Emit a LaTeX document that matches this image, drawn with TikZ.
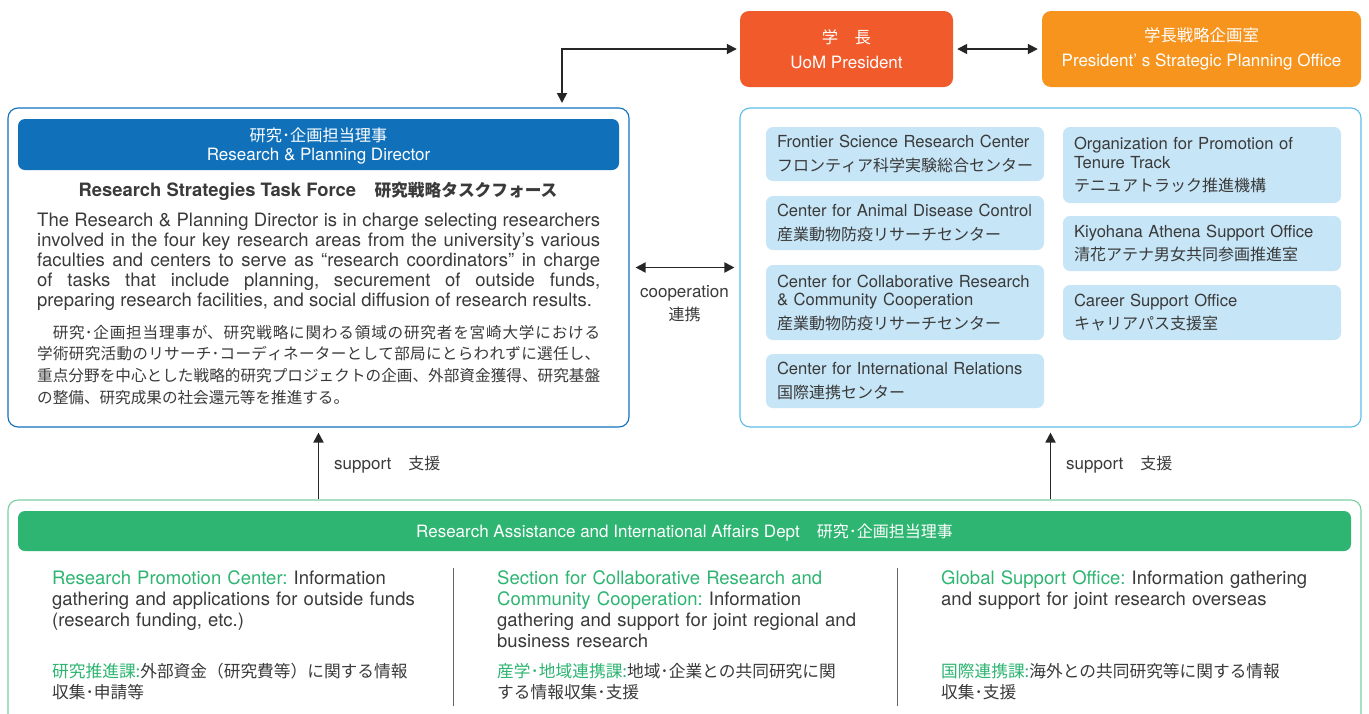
\documentclass[tikz,border=0pt]{standalone}
\usepackage{fontspec}
\setmainfont{TeX Gyre Heros}
\newfontfamily\jpf{Noto Sans CJK JP}
\newcommand\jp[2]{{\jpf\fontsize{#1}{#1}\selectfont #2}}
\newcommand\jpjust{\XeTeXlinebreaklocale "ja"\XeTeXlinebreakskip=0pt plus 3pt\relax}
\newcommand\nohy{\hyphenpenalty=10000\exhyphenpenalty=10000\relax}
\frenchspacing
\usetikzlibrary{arrows.meta}
\definecolor{pres}{HTML}{F15A2B}
\definecolor{pspo}{HTML}{F7941D}
\definecolor{rpblue}{HTML}{1071BA}
\definecolor{ltblue}{HTML}{5BBDE9}
\definecolor{cellblue}{HTML}{C6E5F6}
\definecolor{grn}{HTML}{2DB571}
\definecolor{grnline}{HTML}{7BD0A3}
\definecolor{txt}{HTML}{3A3A3A}
\tikzset{
  toptile/.style={rounded corners=9pt, minimum width=#1, minimum height=76pt, text=white, align=center, font=\fontsize{17}{19}\selectfont, inner sep=0pt},
  frame/.style={rounded corners=10pt, line width=1.1pt, inner sep=0pt},
  hdr/.style={rounded corners=7pt, text=white, align=center, inner sep=0pt, text depth=0pt, font=\fontsize{17}{19}\selectfont},
  cell/.style={fill=cellblue, rounded corners=7pt, minimum width=278pt, text width=256pt, inner xsep=11pt, inner ysep=0pt, align=left, text=txt, font=\fontsize{16.6}{18.5}\selectfont\nohy},
  arr/.style={line width=1.8pt, draw=black!85},
  dbl/.style={arr, {Triangle[length=10pt,width=10pt]}-{Triangle[length=10pt,width=10pt]}},
  one/.style={arr, -{Triangle[length=10pt,width=10pt]}},
  lbl/.style={inner sep=0pt, text=txt, font=\fontsize{17}{19}\selectfont},
  body/.style={anchor=base west, inner sep=0pt, text width=420pt, align=left, text=txt, font=\fontsize{18.5}{21.3}\selectfont\frenchspacing},
  jbody/.style={anchor=base west, inner sep=0pt, text width=420pt, align=left, text=txt, font=\jpf\fontsize{16.7}{21}\selectfont},
  divider/.style={draw=black!60, line width=0.8pt}
}
\begin{document}
\begin{tikzpicture}[x=1pt,y=-1pt]
\useasboundingbox (0,0) rectangle (1369,713);
\clip (0,0) rectangle (1369,713);
\fill[white] (0,0) rectangle (1369,713);

% top tiles
\node[toptile=213pt, fill=pres] (P) at (846.5,49) {\jp{16.4}{学　長}\\[6pt]UoM President};
\node[toptile=319pt, fill=pspo] (S) at (1201.5,49) {\jp{16.4}{学長戦略企画室}\\[6pt]President’ s Strategic Planning Office};

% left frame
\node[frame, draw=rpblue, minimum width=621pt, minimum height=319pt] (L) at (318.5,267.5) {};
\node[hdr, fill=rpblue, minimum width=601pt, minimum height=51pt] (LH) at (318.5,144.5) {\jp{16.2}{研究･企画担当理事}\\Research \& Planning Director};
\node[inner sep=0pt, text=txt, font=\fontsize{18.4}{20}\selectfont\bfseries] (LT) at (318,191) {Research Strategies Task Force\quad\jp{16.7}{研究戦略タスクフォース}};
\node[anchor=base west, inner sep=0pt, text width=563pt, align=justify, text=txt, font=\fontsize{18.5}{20}\selectfont] (LE) at (37,226) {The Research \& Planning Director is in charge selecting researchers\linebreak involved in the four key research areas from the university’s various\linebreak faculties and centers to serve as “research coordinators” in charge\linebreak of tasks that include planning, securement of outside funds,\linebreak preparing research facilities, and social diffusion of research results.};
\node[anchor=base west, inner sep=0pt, text width=563pt, align=justify, text=txt, font=\jpf\fontsize{15.6}{21.7}\selectfont\jpjust] (LJ) at (37,338) {\hspace*{1em}研究･企画担当理事が、研究戦略に関わる領域の研究者を宮崎大学における\linebreak 学術研究活動のリサーチ･コーディネーターとして部局にとらわれずに選任し、\linebreak 重点分野を中心とした戦略的研究プロジェクトの企画、外部資金獲得、研究基盤\linebreak の整備、研究成果の社会還元等を推進する。};

% right frame
\node[frame, draw=ltblue, minimum width=621pt, minimum height=319pt] (R) at (1050.5,267.5) {};
\node[cell, minimum height=54pt] (C1) at (905,154) {Frontier Science Research Center\\[5pt]\jp{16}{フロンティア科学実験総合センター}};
\node[cell, minimum height=54pt] (C2) at (905,223) {Center for Animal Disease Control\\[5pt]\jp{16}{産業動物防疫リサーチセンター}};
\node[cell, minimum height=75pt] (C3) at (905,302.5) {Center for Collaborative Research\\\& Community Cooperation\\[5pt]\jp{16}{産業動物防疫リサーチセンター}};
\node[cell, minimum height=54pt] (C4) at (905,381) {Center for International Relations\\[5pt]\jp{16}{国際連携センター}};
\node[cell, minimum height=76pt] (D1) at (1202,165) {Organization for Promotion of\\Tenure Track\\[5pt]\jp{16}{テニュアトラック推進機構}};
\node[cell, minimum height=55pt] (D2) at (1202,243.5) {Kiyohana Athena Support Office\\[5pt]\jp{16}{清花アテナ男女共同参画推進室}};
\node[cell, minimum height=55pt] (D3) at (1202,312.5) {Career Support Office\\[5pt]\jp{16}{キャリアパス支援室}};

% arrows top
\coordinate (Ltop) at (562,103);
\draw[dbl, shorten <=3pt] (P.west) -| (Ltop);
\draw[dbl, shorten <=4pt, shorten >=4pt] (P.east) -- (S.west);

% cooperation
\draw[dbl, shorten <=6pt, shorten >=5pt] (L.east) -- (R.west);
\node[lbl] (coop) at (684.5,293) {cooperation};
\node[lbl] (coopj) at (684.5,314) {\jp{16}{連携}};

% bottom frame
\node[frame, draw=grnline, minimum width=1353pt, minimum height=260pt] (B) at (684.5,630) {};
\node[hdr, fill=grn, minimum width=1333pt, minimum height=40pt] (BH) at (684.5,531) {Research Assistance and International Affairs Dept\quad\jp{16}{研究･企画担当理事}};

% support arrows
\draw[one, shorten >=5pt] (B.north -| L.south) -- (L.south);
\draw[one, shorten >=5pt] (B.north -| R.south) -- (R.south);
\node[lbl, anchor=west] (sup1) at (334,465) {support\quad\jp{16}{支援}};
\node[lbl, anchor=west] (sup2) at (1066,465) {support\quad\jp{16}{支援}};

% columns
\node[body] (E1) at (52,584) {\color{grn}Research Promotion Center: \color{txt}Information\\gathering and applications for outside funds\\(research funding, etc.)};
\node[jbody] (J1) at (52,677) {\color{grn}研究推進課:\color{txt}外部資金（研究費等）に関する情報\\収集･申請等};
\node[body] (E2) at (497,584) {\color{grn}Section for Collaborative Research and\\Community Cooperation: \color{txt}Information\\gathering and support for joint regional and\\business research};
\node[jbody] (J2) at (497,677) {\color{grn}産学･地域連携課:\color{txt}地域･企業との共同研究に関\\する情報収集･支援};
\node[body] (E3) at (941,584) {\color{grn}Global Support Office: \color{txt}Information gathering\\and support for joint research overseas};
\node[jbody] (J3) at (941,677) {\color{grn}国際連携課:\color{txt}海外との共同研究等に関する情報\\収集･支援};

\coordinate (v1a) at (453,568);
\coordinate (v1b) at (453,706);
\coordinate (v2a) at (897,568);
\coordinate (v2b) at (897,706);
\draw[divider] (v1a) -- (v1b);
\draw[divider] (v2a) -- (v2b);
\end{tikzpicture}
\end{document}
